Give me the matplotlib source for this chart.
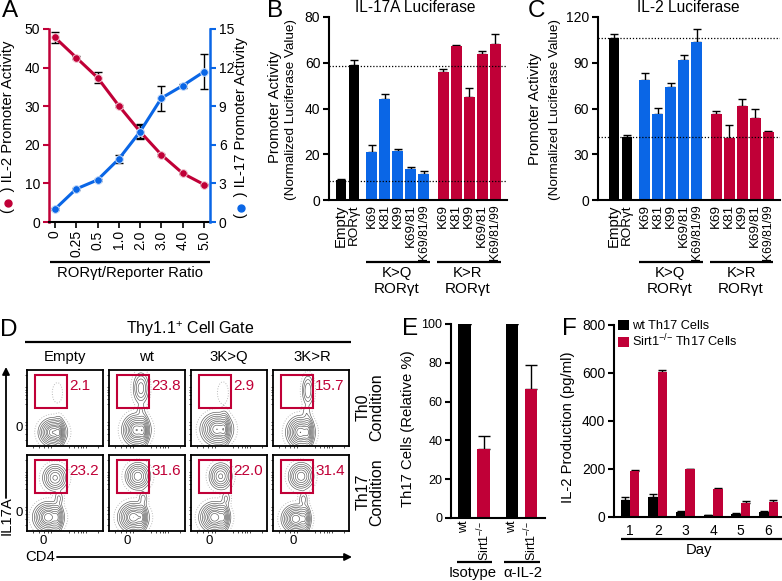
import numpy as np
import matplotlib
matplotlib.use("Agg")
import matplotlib.pyplot as plt

plt.rcParams['font.family'] = ['Liberation Sans', 'DejaVu Sans']
plt.rcParams['mathtext.fontset'] = 'custom'
plt.rcParams['mathtext.rm'] = 'Liberation Sans'
plt.rcParams['mathtext.default'] = 'regular'
plt.rcParams['font.size'] = 10.7
plt.rcParams['ytick.labelsize'] = 10

RED = '#C00037'
BLUE = '#0A66E6'
W, H = 782, 581
ROR = 'ROR\u03b3t'
KO = 'Sirt1$^{{-}/{-}}$'

# panel A
ratio = ['0', '0.25', '0.5', '1.0', '2.0', '3.0', '4.0', '5.0']
il2_act = [47.8, 42.6, 37.4, 30.1, 23.4, 17.4, 12.6, 9.7]
il2_err = [1.35, 0.3, 1.35, 0.3, 1.7, 0.2, 0.2, 0.2]
il17_act = [1.0, 2.57, 3.27, 4.9, 7.03, 9.63, 10.6, 11.68]
il17_err = [0.05, 0.1, 0.1, 0.3, 0.6, 0.97, 0.15, 1.36]

# panels B and C
lucif_names = ['Empty', ROR, 'K69', 'K81', 'K99', 'K69/81', 'K69/81/99',
               'K69', 'K81', 'K99', 'K69/81', 'K69/81/99']
il17a_luc = [8.6, 58.9, 21.0, 44.3, 21.6, 13.7, 11.4, 56.1, 67.3, 45.0, 63.8, 68.4]
il17a_top = [9.3, 61.4, 24.0, 46.4, 22.3, 14.6, 12.8, 57.4, 67.9, 49.0, 65.0, 72.4]
il17a_ref = [58.7, 8.1]
il2_luc = [106.4, 41.3, 78.7, 56.4, 73.9, 91.6, 103.8, 56.4, 40.9, 61.4, 53.8, 44.4]
il2_top = [108.6, 42.4, 83.5, 60.1, 76.5, 95.1, 111.9, 58.6, 49.0, 66.2, 59.9, 45.5]
il2_ref = [106.4, 41.0]
lucif_colors = ['k'] * 2 + [BLUE] * 5 + [RED] * 5

# panel D
flow_cols = ['Empty', 'wt', '3K>Q', '3K>R']
flow_th0 = ['2.1', '23.8', '2.9', '15.7']
flow_th17 = ['23.2', '31.6', '22.0', '31.4']
# (x, y, sx, sy, weight) of the populations
blobs_th0 = [
    [(.34, .18, .07, .07, 1), (.42, .17, .03, .08, .6), (.40, .70, .04, .08, .012)],
    [(.36, .21, .07, .08, 1), (.45, .20, .03, .09, .5), (.42, .76, .045, .09, .25), (.42, .47, .03, .05, .05)],
    [(.34, .22, .08, .08, 1), (.44, .22, .03, .09, .5), (.42, .70, .04, .08, .015)],
    [(.36, .18, .07, .08, 1), (.46, .18, .03, .09, .5), (.46, .73, .035, .09, .18), (.44, .45, .03, .05, .04)],
]
blobs_th17 = [
    [(.28, .18, .075, .075, 1), (.40, .18, .03, .08, .4), (.37, .70, .065, .07, .5), (.42, .43, .03, .05, .06)],
    [(.32, .18, .075, .075, 1), (.43, .18, .03, .08, .4), (.38, .72, .065, .07, .6), (.45, .43, .03, .05, .07)],
    [(.31, .18, .075, .075, 1), (.43, .18, .03, .08, .4), (.39, .72, .06, .07, .5), (.46, .43, .03, .05, .06)],
    [(.30, .16, .07, .07, 1), (.42, .16, .03, .08, .4), (.37, .72, .065, .07, .6), (.40, .42, .03, .05, .07)],
]

# panel E
th17_pct = [100, 35.6, 100, 66.3]
th17_top = [100, 42.3, 100, 78.7]

# panel F
days = ['1', '2', '3', '4', '5', '6']
wt_il2 = [69, 83, 21, 9, 14, 20]
wt_il2_top = [82, 94, 24, 10, 17, 25]
ko_il2 = [190, 606, 200, 117, 58, 62]
ko_il2_top = [197, 614, 202, 121, 66, 69]


def px_axes(left, top, right, bottom):
    return fig.add_axes([left / W, 1 - bottom / H, (right - left) / W, (bottom - top) / H])


def style(ax, color='k'):
    for s in ['top', 'right']:
        ax.spines[s].set_visible(False)
    for s in ax.spines.values():
        s.set_linewidth(1.5)
    ax.tick_params(axis='y', length=4.3, width=1.5, pad=2, color=color)
    ax.set_facecolor('none')


def label(x, y, s, **kw):
    kw.setdefault('ha', 'center')
    kw.setdefault('va', 'center')
    over.text(x, y, s, **kw)


def rule(x0, x1, y, lw=1.6):
    over.plot([x0, x1], [y, y], color='k', lw=lw, solid_capstyle='butt')


def up_errors(ax, x, vals, tops, cap=2.8):
    low = np.zeros(len(vals))
    ax.errorbar(x, vals, yerr=[low, np.array(tops) - np.array(vals)], fmt='none',
                ecolor='k', elinewidth=1, capsize=cap, capthick=1, zorder=1)


fig = plt.figure(figsize=(W / 100, H / 100), dpi=100)
over = fig.add_axes([0, 0, 1, 1], zorder=10)
over.set_xlim(0, W)
over.set_ylim(H, 0)
over.axis('off')

for s, x, y in [('A', 2, 11), ('B', 267, 11), ('C', 528, 11), ('D', 0, 330), ('E', 402, 329), ('F', 562, 329)]:
    label(x, y, s, ha='left', fontsize=17.5)

# A
ax = px_axes(49, 29, 210, 222)
ax2 = ax.twinx()
pos = np.arange(len(ratio))
ax.set_xlim(-.28, 7.28)
ax.set_ylim(0, 50)
ax2.set_ylim(0, 15)
ax.errorbar(pos, il2_act, yerr=il2_err, fmt='none', ecolor='k', elinewidth=1, capsize=3, capthick=1, zorder=1)
ax.plot(pos, il2_act, '-o', color=RED, lw=2.2, ms=5.5, mec='#f3c9d4', mew=.7, zorder=2)
ax2.errorbar(pos, il17_act, yerr=il17_err, fmt='none', ecolor='k', elinewidth=1, capsize=3, capthick=1, zorder=3)
ax2.plot(pos, il17_act, '-o', color=BLUE, lw=2.2, ms=5.5, mec='#c4dafa', mew=.7, zorder=4)
ax.set_yticks(range(0, 51, 10))
ax2.set_yticks(range(0, 16, 3))
ax.set_xticks(pos, ratio, rotation=90, fontsize=10)
ax.tick_params(axis='x', length=4, width=1.2, pad=2)
style(ax, RED)
ax.spines['left'].set_color(RED)
ax.spines['left'].set_linewidth(1.8)
for s in ['top', 'left', 'bottom']:
    ax2.spines[s].set_visible(False)
ax2.spines['right'].set_color(BLUE)
ax2.spines['right'].set_linewidth(1.8)
ax2.tick_params(axis='y', length=4.3, width=1.5, pad=2, color=BLUE)
rule(50, 210, 262)
label(130, 273, 'ROR\u03b3t/Reporter Ratio')
label(8, 127, '(    ) IL-2 Promoter Activity', rotation=90)
label(241, 128, '(    ) IL-17 Promoter Activity', rotation=90)
over.plot([8], [203], 'o', color=RED, ms=5)
over.plot([241], [208], 'o', color=BLUE, ms=5)

# B and C
lucif_pos = np.r_[np.arange(2), 2.38 + np.arange(5), 7.85 + np.arange(5)]
for box, vals, tops, refs, top, step in [((329, 17, 507, 200), il17a_luc, il17a_top, il17a_ref, 80, 20),
                                         ((598, 17, 780, 200), il2_luc, il2_top, il2_ref, 120, 30)]:
    ax = px_axes(*box)
    first = 341 if top == 80 else 614
    ax.set_xlim((box[0] - first) / 13, (box[2] - first) / 13)
    ax.set_ylim(0, top)
    up_errors(ax, lucif_pos, vals, tops)
    ax.bar(lucif_pos, vals, width=.84, color=lucif_colors, zorder=2)
    for r in refs:
        ax.axhline(r, color='k', lw=.9, ls=(0, (1, 1.5)), zorder=3)
    ax.set_yticks(range(0, top + 1, step))
    ax.set_xticks(lucif_pos, lucif_names, rotation=90, fontsize=9.7)
    ax.tick_params(axis='x', length=0, pad=3)
    for t in ax.get_xticklabels():
        if t.get_text() == 'K69/81/99':
            t.set_fontsize(8.8)
        if t.get_text() == 'Empty':
            t.set_fontsize(10.7)
    style(ax)

label(415, 7, 'IL-17A Luciferase', fontsize=11.2)
label(275, 107, 'Promoter Activity', rotation=90)
label(291, 109, '(Normalized Luciferase Value)', rotation=90, fontsize=9.7)
rule(366, 430, 262)
rule(437, 501, 262)
label(397, 273, 'K>Q')
label(397, 289, ROR, fontsize=11)
label(468, 273, 'K>R')
label(468, 289, ROR, fontsize=11)

label(688, 7, 'IL-2 Luciferase', fontsize=11.2)
label(535, 109, 'Promoter Activity', rotation=90)
label(555, 109, '(Normalized Luciferase Value)', rotation=90, fontsize=9.7)
rule(639, 703, 262)
rule(710, 773, 262)
label(670, 273, 'K>Q')
label(670, 289, ROR, fontsize=11)
label(741, 273, 'K>R')
label(741, 289, ROR, fontsize=11)

# D
col_left = [27, 109, 191, 273]
grid = np.linspace(0, 1, 200)
gx, gy = np.meshgrid(grid, grid)
ticks = [.08, .16, .22, .27, .31, .55, .62, .67, .71, .74, .77, .93]
for top, blobs, vals in [(370, blobs_th0, flow_th0), (455, blobs_th17, flow_th17)]:
    for left, pops, val in zip(col_left, blobs, vals):
        ax = px_axes(left, top, left + 76, top + 76)
        dens = np.zeros_like(gx)
        for x0, y0, sx, sy, amp in pops:
            dens += amp * np.exp(-.5 * ((gx - x0) / sx) ** 2 - .5 * ((gy - y0) / sy) ** 2)
        ax.contour(gx, gy, dens, levels=[.003], colors='#bbbbbb', linewidths=.7, linestyles=':')
        ax.contour(gx, gy, dens, levels=[.02, .05, .1, .18, .3, .45, .6, .8, 1.0],
                   colors='#555555', linewidths=.45)
        ax.set_xlim(0, 1)
        ax.set_ylim(0, 1)
        ax.set_xticks(ticks, [])
        ax.set_yticks(ticks, [])
        ax.tick_params(length=1.2, width=.5, pad=1)
        for s in ax.spines.values():
            s.set_linewidth(1.3)
        over.add_patch(plt.Rectangle((left + 8, top + 5), 32, 33, fill=False, ec=RED, lw=1.5))
        label(left + 42, top + 16, val, ha='left', color=RED, fontsize=11)

label(190, 329, 'Thy1.1$^{+}$ Cell Gate', fontsize=11.5)
rule(25, 351, 342)
for x, name in zip([65, 147, 229, 312], flow_cols):
    label(x, 357, name)
for x in [43, 127, 209, 293]:
    label(x, 541, '0', fontsize=9.5)
label(19, 428, '0', fontsize=9.5)
label(19, 513, '0', fontsize=9.5)
label(363, 407, 'Th0', rotation=90, fontsize=11.5)
label(377, 407, 'Condition', rotation=90, fontsize=11.5)
label(363, 492, 'Th17', rotation=90, fontsize=11.5)
label(377, 492, 'Condition', rotation=90, fontsize=11.5)
label(25, 557, 'CD4', ha='left')
label(7, 516, 'IL17A', rotation=90)
over.annotate('', xy=(352, 557), xytext=(57, 557), arrowprops=dict(arrowstyle='-|>', color='k', lw=1.3, shrinkA=0, shrinkB=0))
over.annotate('', xy=(6, 367), xytext=(6, 498), arrowprops=dict(arrowstyle='-|>', color='k', lw=1.3, shrinkA=0, shrinkB=0))

# E
ax = px_axes(451, 324, 545, 518)
e_pos = np.array([0, 1, 2.5, 3.5])
ax.set_xlim((451 - 464.5) / 19, (545 - 464.5) / 19)
ax.set_ylim(0, 100)
up_errors(ax, e_pos, th17_pct, th17_top, cap=4.5)
ax.bar(e_pos, th17_pct, width=.68, color=['k', RED, 'k', RED], zorder=2)
ax.set_yticks(range(0, 101, 20))
ax.set_xticks(e_pos, ['wt', KO, 'wt', KO], rotation=90, fontsize=9)
ax.tick_params(axis='x', length=0, pad=2)
style(ax)
ax.tick_params(axis='y', labelsize=9)
label(408, 429, 'Th17 Cells (Relative %)', rotation=90)
rule(457, 492, 562)
rule(504, 540, 562)
label(473, 573, 'Isotype')
label(523, 573, '\u03b1-IL-2')

# F
ax = px_axes(614, 325, 782, 517)
f_pos = np.arange(len(days))
ax.set_xlim((614 - 630) / 27.7, (782 - 630) / 27.7)
ax.set_ylim(0, 800)
up_errors(ax, f_pos - .17, wt_il2, wt_il2_top, cap=3)
up_errors(ax, f_pos + .17, ko_il2, ko_il2_top, cap=3)
ax.bar(f_pos - .17, wt_il2, width=.34, color='k', zorder=2, label='wt Th17 Cells')
ax.bar(f_pos + .17, ko_il2, width=.34, color=RED, zorder=2, label=KO + ' Th17 Cells')
ax.set_yticks(range(0, 801, 200))
ax.set_xticks(f_pos, days, fontsize=10)
ax.tick_params(axis='x', length=0, pad=5)
style(ax)
ax.legend(loc='upper left', bbox_to_anchor=(0.01, 1.04), frameon=False, handlelength=.85, handleheight=.8,
          handletextpad=.2, labelspacing=.05, borderaxespad=.2, borderpad=0, fontsize=9.2)
label(568, 427, 'IL-2 Production (pg/ml)', rotation=90)
rule(621, 782, 539)
label(699, 550, 'Day')

fig.savefig('out.png', dpi=100)
